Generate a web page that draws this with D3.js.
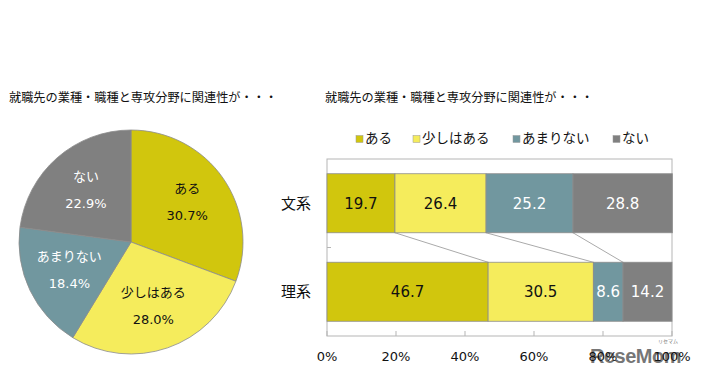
<!DOCTYPE html>
<html><head><meta charset="utf-8">
<script src="https://cdn.jsdelivr.net/npm/d3@7"></script>
<style>body{margin:0;background:#fff}svg{display:block}</style>
</head><body>
<script>
const answers = ["ある", "少しはある", "あまりない", "ない"];
const colors = ["#d1c60d", "#f5ec5c", "#71979f", "#808080"];
const labelColors = ["#111", "#111", "#fff", "#fff"];
const pieValues = [30.7, 28.0, 18.4, 22.9];
const groups = ["文系", "理系"];
const bunkei = [19.7, 26.4, 25.2, 28.8];
const rikei = [46.7, 30.5, 8.6, 14.2];
const xTicks = [0, 20, 40, 60, 80, 100];
const title = "就職先の業種・職種と専攻分野に関連性が・・・";

(function () {
const W = 702, H = 380;
const font = "'DejaVu Sans','Noto Sans CJK JP',sans-serif";
const jfont = "'Noto Sans CJK JP',sans-serif";
const svg = d3.select("body").append("svg").attr("width", W).attr("height", H);

// titles
svg.append("text").attr("x", 9).attr("y", 102).attr("font-family", jfont)
  .attr("font-size", 12.2).attr("fill", "#111").text(title);
svg.append("text").attr("x", 325).attr("y", 102).attr("font-family", jfont)
  .attr("font-size", 12.2).attr("fill", "#111").text(title);

// pie
const cx = 131, cy = 242, R = 112;
const pie = d3.pie().sort(null).value(d => d)(pieValues);
const arc = d3.arc().innerRadius(0).outerRadius(R);
const labelArc = d3.arc().innerRadius(R * 0.61).outerRadius(R * 0.61);
const pg = svg.append("g").attr("transform", `translate(${cx},${cy})`);
pg.selectAll("path").data(pie).join("path")
  .attr("d", arc).attr("fill", (d, i) => colors[i])
  .attr("stroke", "#8c8c8c").attr("stroke-width", 0.8);
pie.forEach((d, i) => {
  const [x, y] = labelArc.centroid(d);
  pg.append("text").attr("x", x).attr("y", y - 10).attr("text-anchor", "middle")
    .attr("font-family", jfont).attr("font-size", 13).attr("fill", labelColors[i])
    .text(answers[i]);
  pg.append("text").attr("x", x).attr("y", y + 17).attr("text-anchor", "middle")
    .attr("font-family", font).attr("font-size", 13).attr("fill", labelColors[i])
    .text(d3.format(".1f")(pieValues[i]) + "%");
});

// legend
const legendX = [356, 413, 513, 613];
answers.forEach((a, i) => {
  svg.append("rect").attr("x", legendX[i]).attr("y", 135.5).attr("width", 7).attr("height", 7)
    .attr("fill", colors[i]).attr("stroke", "#999").attr("stroke-width", 0.5);
  svg.append("text").attr("x", legendX[i] + 9).attr("y", 143).attr("font-family", jfont)
    .attr("font-size", 13.5).attr("fill", "#111").text(a);
});

// bar chart
const pLeft = 327, pRight = 672, pTop = 159, pBottom = 336;
const x = d3.scaleLinear().domain([0, 100]).range([pLeft, pRight]);
const y = d3.scaleBand().domain(groups).range([pTop, pBottom]).paddingInner(0.333).paddingOuter(0.1665);
const rows = [bunkei, rikei];

svg.append("rect").attr("x", pLeft).attr("y", pTop).attr("width", pRight - pLeft).attr("height", pBottom - pTop)
  .attr("fill", "none").attr("stroke", "#b5b5b5").attr("stroke-width", 1);

const cum = rows.map(r => { let s = 0; return r.map(v => (s += v)); });
for (let k = 0; k < 3; k++) {
  svg.append("line")
    .attr("x1", x(cum[0][k])).attr("y1", y(groups[0]) + y.bandwidth())
    .attr("x2", x(cum[1][k])).attr("y2", y(groups[1]))
    .attr("stroke", "#aaa").attr("stroke-width", 1);
}

rows.forEach((r, gi) => {
  let s = 0;
  r.forEach((v, i) => {
    const x0 = x(s), x1 = x(s + v);
    svg.append("rect").attr("x", x0).attr("y", y(groups[gi]))
      .attr("width", x1 - x0).attr("height", y.bandwidth())
      .attr("fill", colors[i]).attr("stroke", "#8c8c8c").attr("stroke-width", 0.8);
    svg.append("text").attr("x", (x0 + x1) / 2).attr("y", y(groups[gi]) + y.bandwidth() / 2 + 5.5)
      .attr("text-anchor", "middle").attr("font-family", font).attr("font-size", 15)
      .attr("fill", labelColors[i]).text(d3.format(".1f")(v));
    s += v;
  });
  svg.append("text").attr("x", pLeft - 16).attr("y", y(groups[gi]) + y.bandwidth() / 2 + 5.5)
    .attr("text-anchor", "end").attr("font-family", jfont).attr("font-size", 15)
    .attr("fill", "#111").text(groups[gi]);
});

svg.append("line").attr("x1", pLeft).attr("x2", pLeft + 4)
  .attr("y1", (pTop + pBottom) / 2).attr("y2", (pTop + pBottom) / 2)
  .attr("stroke", "#b5b5b5");

// watermark (drawn beneath tick labels)
svg.append("text").attr("x", 590).attr("y", 363).attr("font-family", "'Liberation Sans',Arial,sans-serif")
  .attr("font-weight", "bold").attr("font-size", 20).attr("fill", "#555").attr("opacity", 0.8)
  .attr("letter-spacing", -0.5).text("ReseMom");
svg.append("text").attr("x", 668).attr("y", 343).attr("font-family", jfont)
  .attr("font-size", 5).attr("fill", "#777").attr("text-anchor", "middle").text("リセマム");

xTicks.forEach(t => {
  svg.append("line").attr("x1", x(t)).attr("x2", x(t)).attr("y1", pBottom).attr("y2", pBottom - 5)
    .attr("stroke", "#b5b5b5");
  svg.append("text").attr("x", x(t)).attr("y", 361).attr("text-anchor", "middle")
    .attr("font-family", font).attr("font-size", 13).attr("fill", "#111").text(t + "%");
});
})();
</script>
</body></html>
